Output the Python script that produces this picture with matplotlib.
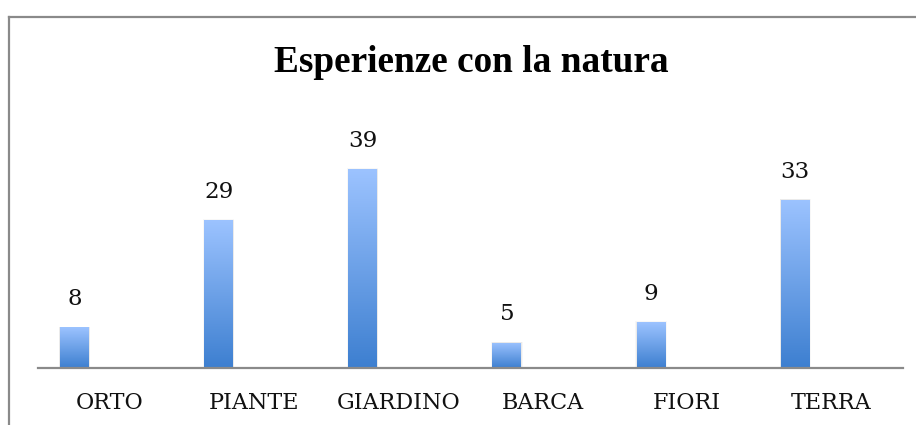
import matplotlib
matplotlib.use("Agg")
import matplotlib.pyplot as plt
import numpy as np
from matplotlib.colors import LinearSegmentedColormap
from matplotlib.patches import Rectangle

categories = ["ORTO", "PIANTE", "GIARDINO", "BARCA", "FIORI", "TERRA"]
values = [8, 29, 39, 5, 9, 33]
title = "Esperienze con la natura"

W, H = 916, 425
fig = plt.figure(figsize=(W / 100, H / 100), dpi=100)

# outer frame (extends past right and bottom edges)
fig.add_artist(plt.Line2D([9 / W, 1.0], [1 - 17 / H, 1 - 17 / H], color="#8a8a8a", lw=1.6))
fig.add_artist(plt.Line2D([9 / W, 9 / W], [1 - 17 / H, 0.0], color="#8a8a8a", lw=1.6))

ax_left, ax_right, ax_bottom, ax_top = 38, 903, 368, 113
ax = fig.add_axes([ax_left / W, 1 - ax_bottom / H, (ax_right - ax_left) / W, (ax_bottom - ax_top) / H])
ax.set_xlim(-0.5, len(categories) - 0.5)
ax.set_ylim(0, 50)
for s in ["top", "right", "left"]:
    ax.spines[s].set_visible(False)
ax.spines["bottom"].set_color("#8a8a8a")
ax.spines["bottom"].set_linewidth(1.6)
ax.set_yticks([])

bar_w = 0.201
offset = -0.247
cmap = LinearSegmentedColormap.from_list("g", ["#3d7fd0", "#9cc3ff"])
grad = np.linspace(0, 1, 256).reshape(-1, 1)
x = np.arange(len(categories)) + offset
bars = ax.bar(x, values, width=bar_w, color="none", edgecolor="none")
for b, v in zip(bars, values):
    x0, w, h = b.get_x(), b.get_width(), b.get_height()
    # soft shadow
    for k, a in enumerate([0.05, 0.03]):
        sh = Rectangle((x0 - 0.004 * (k + 1), 0), w + 0.008 * (k + 1), h + 0.06 * (k + 1),
                       color="#000000", alpha=a, lw=0, zorder=1)
        ax.add_patch(sh)
    im = ax.imshow(grad, cmap=cmap, aspect="auto", origin="lower",
                   extent=[x0, x0 + w, 0, h], zorder=2, interpolation="bilinear")
    clip = Rectangle((x0, 0), w, h, transform=ax.transData)
    im.set_clip_path(clip)
    ax.annotate(str(v), (x0 + w / 2, h), xytext=(0, 17), textcoords="offset pixels",
                ha="center", va="bottom", fontsize=16.5, family="DejaVu Serif", color="#111111")

ax.set_xticks(np.arange(len(categories)))
ax.set_xticklabels(categories, family="DejaVu Serif", fontsize=16, color="#111111")
ax.tick_params(axis="x", length=0, pad=17)
ax.set_xlim(-0.5, len(categories) - 0.5)

fig.text(471 / W, 1 - 62 / H, title, ha="center", va="center", fontsize=26.8,
         fontweight="bold", family="Liberation Serif", color="#000000")

fig.savefig("out.png", dpi=100)
